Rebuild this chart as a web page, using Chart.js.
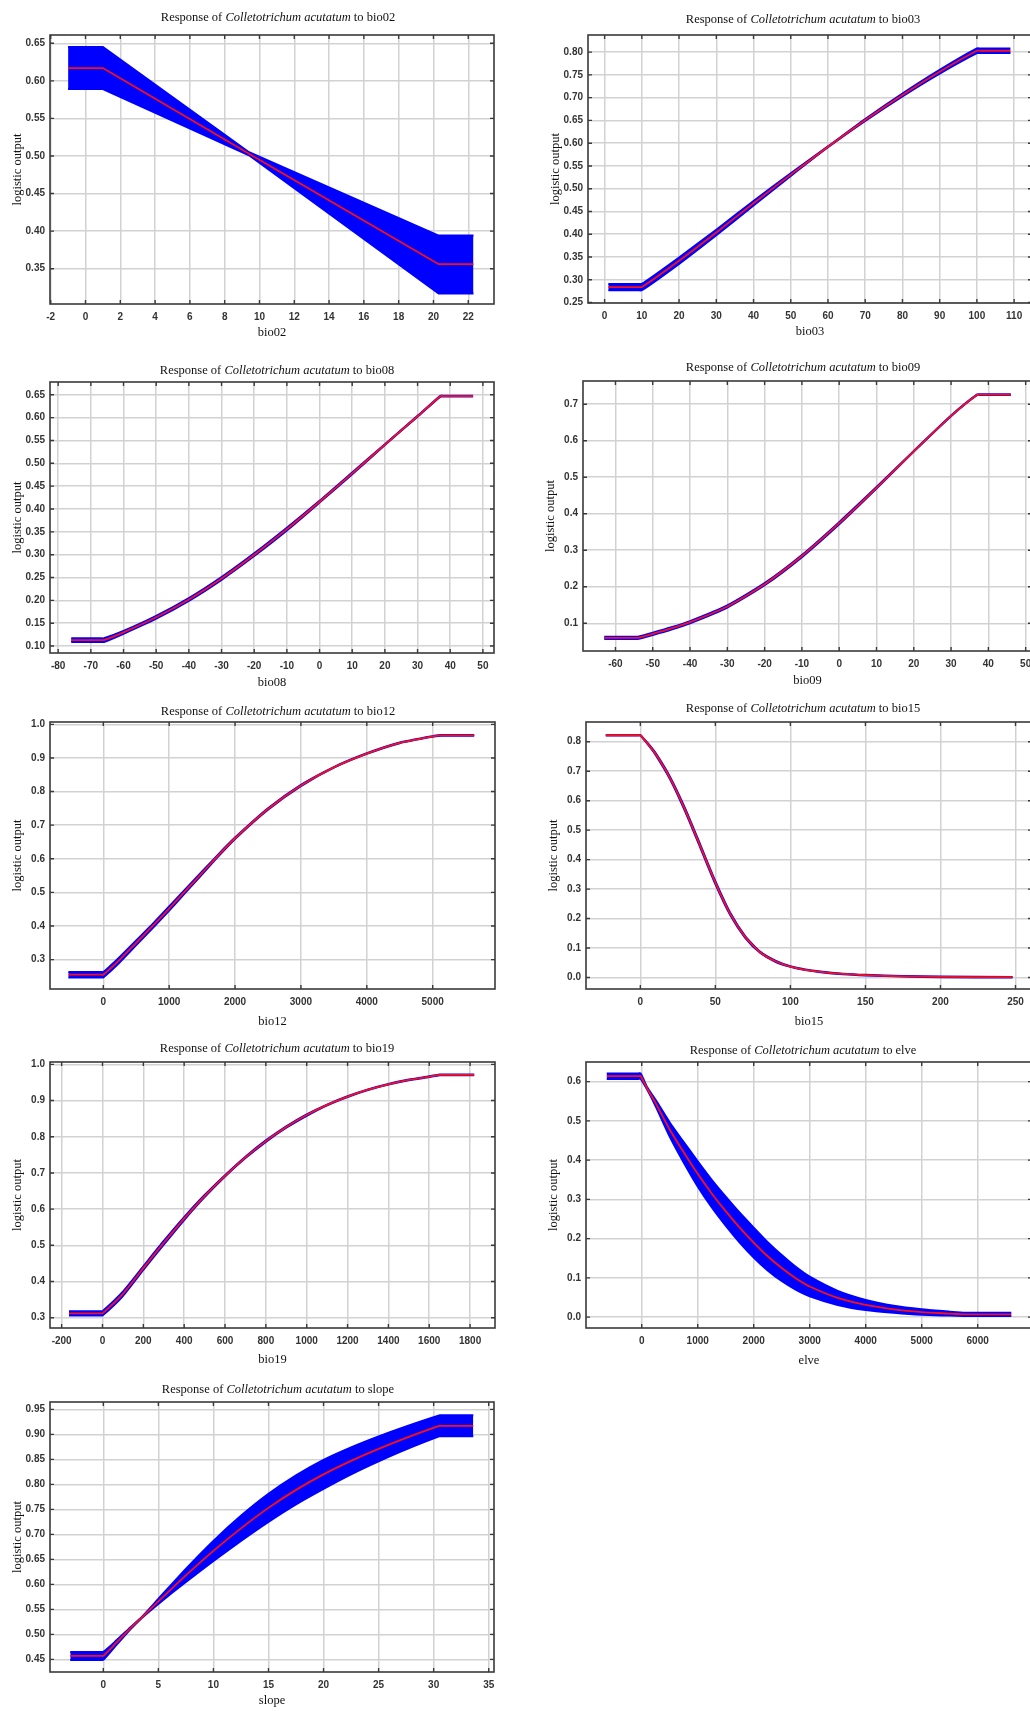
<!DOCTYPE html>
<html>
<head>
<meta charset="utf-8">
<script src="https://cdn.jsdelivr.net/npm/chart.js@4.4.1/dist/chart.umd.min.js"></script>
<style>
  body { margin: 0; background: #fff; }
  #page { position: relative; width: 1030px; height: 1711px; overflow: hidden; background: #fff; }
  #page canvas { position: absolute; }
  .ttl { position: absolute; width: 420px; text-align: center; font: 12.5px "Liberation Serif", "Times New Roman", serif; line-height: 16px; color: #111; white-space: nowrap; }
</style>
</head>
<body>
<div id="page"></div>
<script>
// ---- data (x, mean, upper, lower) ----
var bio02X   = [-1, 1, 9.4, 20.3, 22.3];
var bio02Mid = [0.617, 0.617, 0.503, 0.356, 0.356];
var bio02Up  = [0.645, 0.645, 0.505, 0.394, 0.394];
var bio02Low = [0.589, 0.589, 0.501, 0.317, 0.317];
var bio02XTicks = ['-2', '0', '2', '4', '6', '8', '10', '12', '14', '16', '18', '20', '22'];
var bio02YTicks = ['0.35', '0.40', '0.45', '0.50', '0.55', '0.60', '0.65'];

var bio03X   = [1, 9, 10, 20, 30, 40, 50, 60, 70, 80, 90, 100, 101, 109];
var bio03Mid = [0.284, 0.284, 0.284, 0.342, 0.404, 0.468, 0.531, 0.592, 0.651, 0.706, 0.757, 0.803, 0.803, 0.803];
var bio03Up  = [0.291, 0.291, 0.291, 0.349, 0.410, 0.473, 0.534, 0.593, 0.653, 0.709, 0.761, 0.808, 0.808, 0.808];
var bio03Low = [0.277, 0.277, 0.277, 0.335, 0.398, 0.463, 0.528, 0.591, 0.649, 0.703, 0.753, 0.798, 0.798, 0.798];
var bio03XTicks = ['0', '10', '20', '30', '40', '50', '60', '70', '80', '90', '100', '110'];
var bio03YTicks = ['0.25', '0.30', '0.35', '0.40', '0.45', '0.50', '0.55', '0.60', '0.65', '0.70', '0.75', '0.80'];

var bio08X   = [-76, -67, -66, -60, -50, -40, -30, -20, -10, 0, 10, 20, 30, 37, 38, 47];
var bio08Mid = [0.113, 0.113, 0.113, 0.130, 0.163, 0.202, 0.248, 0.300, 0.356, 0.416, 0.478, 0.541, 0.603, 0.647, 0.647, 0.647];
var bio08Up  = [0.117, 0.117, 0.117, 0.133, 0.166, 0.205, 0.251, 0.303, 0.359, 0.418, 0.480, 0.542, 0.604, 0.648, 0.648, 0.648];
var bio08Low = [0.109, 0.109, 0.109, 0.127, 0.160, 0.199, 0.245, 0.297, 0.353, 0.414, 0.476, 0.540, 0.602, 0.646, 0.646, 0.646];
var bio08XTicks = ['-80', '-70', '-60', '-50', '-40', '-30', '-20', '-10', '0', '10', '20', '30', '40', '50'];
var bio08YTicks = ['0.10', '0.15', '0.20', '0.25', '0.30', '0.35', '0.40', '0.45', '0.50', '0.55', '0.60', '0.65'];

var bio09X   = [-63, -55, -54, -50, -45, -40, -30, -20, -10, 0, 10, 20, 30, 37, 38, 46];
var bio09Mid = [0.060, 0.060, 0.060, 0.071, 0.086, 0.103, 0.146, 0.207, 0.284, 0.374, 0.471, 0.571, 0.668, 0.726, 0.726, 0.726];
var bio09Up  = [0.063, 0.063, 0.063, 0.074, 0.089, 0.106, 0.149, 0.210, 0.287, 0.377, 0.473, 0.572, 0.669, 0.727, 0.727, 0.727];
var bio09Low = [0.057, 0.057, 0.057, 0.068, 0.083, 0.100, 0.143, 0.204, 0.281, 0.371, 0.469, 0.570, 0.667, 0.725, 0.725, 0.725];
var bio09XTicks = ['-60', '-50', '-40', '-30', '-20', '-10', '0', '10', '20', '30', '40', '50'];
var bio09YTicks = ['0.1', '0.2', '0.3', '0.4', '0.5', '0.6', '0.7'];

var bio12X   = [-530, -30, 0, 100, 250, 500, 750, 1000, 1250, 1500, 1750, 2000, 2500, 3000, 3500, 4000, 4500, 5000, 5130, 5160, 5630];
var bio12Mid = [0.255, 0.255, 0.255, 0.272, 0.300, 0.350, 0.400, 0.452, 0.505, 0.558, 0.611, 0.661, 0.748, 0.818, 0.872, 0.913, 0.945, 0.964, 0.967, 0.967, 0.967];
var bio12Up  = [0.263, 0.263, 0.263, 0.280, 0.308, 0.357, 0.406, 0.458, 0.510, 0.562, 0.614, 0.663, 0.750, 0.820, 0.873, 0.914, 0.946, 0.965, 0.968, 0.968, 0.968];
var bio12Low = [0.247, 0.247, 0.247, 0.264, 0.292, 0.343, 0.394, 0.446, 0.500, 0.554, 0.608, 0.659, 0.746, 0.816, 0.871, 0.912, 0.944, 0.963, 0.966, 0.966, 0.966];
var bio12XTicks = ['0', '1000', '2000', '3000', '4000', '5000'];
var bio12YTicks = ['0.3', '0.4', '0.5', '0.6', '0.7', '0.8', '0.9', '1.0'];

var bio15X   = [-23, -1, 0, 5, 10, 20, 30, 40, 50, 60, 70, 80, 90, 100, 110, 120, 135, 150, 175, 200, 248];
var bio15Mid = [0.822, 0.822, 0.822, 0.793, 0.760, 0.675, 0.567, 0.445, 0.322, 0.215, 0.137, 0.085, 0.055, 0.037, 0.026, 0.019, 0.012, 0.008, 0.004, 0.002, 0.001];
var bio15Up  = [0.823, 0.823, 0.823, 0.795, 0.763, 0.679, 0.572, 0.450, 0.327, 0.219, 0.140, 0.087, 0.057, 0.038, 0.027, 0.020, 0.013, 0.009, 0.005, 0.003, 0.002];
var bio15Low = [0.821, 0.821, 0.821, 0.791, 0.757, 0.671, 0.562, 0.440, 0.317, 0.211, 0.134, 0.083, 0.053, 0.036, 0.025, 0.018, 0.011, 0.007, 0.003, 0.001, 0.000];
var bio15XTicks = ['0', '50', '100', '150', '200', '250'];
var bio15YTicks = ['0.0', '0.1', '0.2', '0.3', '0.4', '0.5', '0.6', '0.7', '0.8'];

var bio19X   = [-164, -10, 0, 100, 200, 300, 400, 500, 600, 700, 800, 900, 1000, 1100, 1200, 1300, 1400, 1500, 1600, 1650, 1660, 1820];
var bio19Mid = [0.312, 0.312, 0.312, 0.366, 0.437, 0.507, 0.574, 0.636, 0.692, 0.743, 0.788, 0.827, 0.860, 0.888, 0.911, 0.930, 0.945, 0.957, 0.966, 0.971, 0.971, 0.971];
var bio19Up  = [0.318, 0.318, 0.318, 0.372, 0.442, 0.512, 0.578, 0.639, 0.694, 0.745, 0.790, 0.829, 0.862, 0.889, 0.912, 0.931, 0.946, 0.958, 0.967, 0.972, 0.972, 0.972];
var bio19Low = [0.306, 0.306, 0.306, 0.360, 0.432, 0.502, 0.570, 0.633, 0.690, 0.741, 0.786, 0.825, 0.858, 0.887, 0.910, 0.929, 0.944, 0.956, 0.965, 0.970, 0.970, 0.970];
var bio19XTicks = ['-200', '0', '200', '400', '600', '800', '1000', '1200', '1400', '1600', '1800'];
var bio19YTicks = ['0.3', '0.4', '0.5', '0.6', '0.7', '0.8', '0.9', '1.0'];

var elveX   = [-625, -60, -20, 100, 250, 500, 750, 1000, 1250, 1500, 1750, 2000, 2250, 2500, 2750, 3000, 3500, 4000, 4500, 5000, 5500, 5750, 5800, 6600];
var elveMid = [0.614, 0.614, 0.614, 0.582, 0.545, 0.478, 0.420, 0.365, 0.315, 0.270, 0.228, 0.190, 0.155, 0.125, 0.099, 0.078, 0.049, 0.031, 0.020, 0.013, 0.009, 0.007, 0.007, 0.007];
var elveUp  = [0.621, 0.621, 0.621, 0.585, 0.553, 0.496, 0.446, 0.397, 0.350, 0.307, 0.266, 0.228, 0.191, 0.158, 0.128, 0.103, 0.067, 0.044, 0.029, 0.020, 0.014, 0.011, 0.011, 0.011];
var elveLow = [0.607, 0.607, 0.607, 0.579, 0.537, 0.460, 0.394, 0.333, 0.280, 0.233, 0.190, 0.152, 0.119, 0.092, 0.070, 0.053, 0.031, 0.018, 0.011, 0.006, 0.004, 0.003, 0.003, 0.003];
var elveXTicks = ['0', '1000', '2000', '3000', '4000', '5000', '6000'];
var elveYTicks = ['0.0', '0.1', '0.2', '0.3', '0.4', '0.5', '0.6'];

var slopeX   = [-3, -0.2, 0, 1, 2.5, 3.5, 5, 7.5, 10, 12.5, 15, 17.5, 20, 22.5, 25, 27.5, 30.5, 30.7, 33.6];
var slopeMid = [0.457, 0.457, 0.457, 0.479, 0.513, 0.534, 0.566, 0.618, 0.667, 0.712, 0.753, 0.789, 0.820, 0.847, 0.871, 0.893, 0.917, 0.917, 0.917];
var slopeUp  = [0.465, 0.465, 0.465, 0.484, 0.515, 0.535, 0.571, 0.631, 0.687, 0.737, 0.781, 0.818, 0.849, 0.874, 0.896, 0.916, 0.938, 0.938, 0.938];
var slopeLow = [0.449, 0.449, 0.449, 0.474, 0.511, 0.533, 0.561, 0.605, 0.647, 0.687, 0.725, 0.760, 0.791, 0.820, 0.846, 0.870, 0.896, 0.896, 0.896];
var slopeXTicks = ['0', '5', '10', '15', '20', '25', '30', '35'];
var slopeYTicks = ['0.45', '0.50', '0.55', '0.60', '0.65', '0.70', '0.75', '0.80', '0.85', '0.90', '0.95'];

// ---- panel placement (plot box left, top, right, bottom in page px) ----
var panels = [
  { name: 'bio02', x: bio02X, mid: bio02Mid, up: bio02Up, low: bio02Low, xt: bio02XTicks, yt: bio02YTicks,
    xr: [-2.04, 23.48], yr: [0.303, 0.661], box: [50, 32, 494, 304], title: [278, 17], xh: 36, bend: 0 },
  { name: 'bio03', x: bio03X, mid: bio03Mid, up: bio03Up, low: bio03Low, xt: bio03XTicks, yt: bio03YTicks,
    xr: [-4.46, 114.8], yr: [0.249, 0.8376], box: [588, 32, 1032, 303], title: [803, 19], xh: 36, bend: 0.2 },
  { name: 'bio08', x: bio08X, mid: bio08Mid, up: bio08Up, low: bio08Low, xt: bio08XTicks, yt: bio08YTicks,
    xr: [-82.5, 53.4], yr: [0.0848, 0.678], box: [50, 379, 494, 653], title: [277, 370], xh: 37, bend: 0.2 },
  { name: 'bio09', x: bio09X, mid: bio09Mid, up: bio09Up, low: bio09Low, xt: bio09XTicks, yt: bio09YTicks,
    xr: [-68.7, 51.7], yr: [0.024, 0.7635], box: [583, 378, 1032, 651], title: [803, 367], xh: 37, bend: 0.2 },
  { name: 'bio12', x: bio12X, mid: bio12Mid, up: bio12Up, low: bio12Low, xt: bio12XTicks, yt: bio12YTicks,
    xr: [-809, 5946], yr: [0.2125, 1.007], box: [50, 719, 495, 989], title: [278, 711], xh: 40, bend: 0.2 },
  { name: 'bio15', x: bio15X, mid: bio15Mid, up: bio15Up, low: bio15Low, xt: bio15XTicks, yt: bio15YTicks,
    xr: [-36.2, 261], yr: [-0.039, 0.867], box: [586, 719, 1032, 989], title: [803, 708], xh: 40, bend: 0.2 },
  { name: 'bio19', x: bio19X, mid: bio19Mid, up: bio19Up, low: bio19Low, xt: bio19XTicks, yt: bio19YTicks,
    xr: [-257, 1922], yr: [0.2715, 1.0066], box: [50, 1059, 495, 1328], title: [277, 1048], xh: 39, bend: 0.2 },
  { name: 'elve', x: elveX, mid: elveMid, up: elveUp, low: elveLow, xt: elveXTicks, yt: elveYTicks,
    xr: [-995, 6970], yr: [-0.0277, 0.650], box: [586, 1059, 1032, 1328], title: [803, 1050], xh: 40, bend: 0.2 },
  { name: 'slope', x: slopeX, mid: slopeMid, up: slopeUp, low: slopeLow, xt: slopeXTicks, yt: slopeYTicks,
    xr: [-4.84, 35.48], yr: [0.4248, 0.9647], box: [50, 1399, 494, 1672], title: [278, 1389], xh: 36, bend: 0.2 }
];

// frame round the plot with small inward ticks on all four sides
var frameBox = {
  id: 'frameBox',
  afterDraw: function (chart) {
    var c = chart.ctx, a = chart.chartArea;
    var sx = chart.scales.x, sy = chart.scales.y;
    c.save();
    c.strokeStyle = '#3a3a3a';
    c.lineWidth = 1.6;
    c.strokeRect(a.left, a.top, a.right - a.left, a.bottom - a.top);
    c.lineWidth = 1.4;
    c.beginPath();
    sx.ticks.forEach(function (t) {
      var px = sx.getPixelForValue(t.value);
      c.moveTo(px, a.bottom); c.lineTo(px, a.bottom - 4);
      c.moveTo(px, a.top); c.lineTo(px, a.top + 4);
    });
    sy.ticks.forEach(function (t) {
      var py = sy.getPixelForValue(t.value);
      c.moveTo(a.left, py); c.lineTo(a.left + 4, py);
      c.moveTo(a.right, py); c.lineTo(a.right - 4, py);
    });
    c.stroke();
    c.restore();
  }
};

function pts(xs, ys) {
  return xs.map(function (v, i) { return { x: v, y: ys[i] }; });
}

var page = document.getElementById('page');
var padTop = 8, yW = 50, padRight = 12;

panels.forEach(function (p) {
  var b = p.box;
  var cv = document.createElement('canvas');
  var w = yW + (b[2] - b[0]) + padRight;
  var h = padTop + (b[3] - b[1]) + p.xh;
  cv.width = w; cv.height = h;
  cv.style.left = (b[0] - yW) + 'px';
  cv.style.top = (b[1] - padTop) + 'px';
  cv.style.width = w + 'px'; cv.style.height = h + 'px';
  page.appendChild(cv);

  var t = document.createElement('div');
  t.className = 'ttl';
  t.style.left = (p.title[0] - 210) + 'px';
  t.style.top = (p.title[1] - 8) + 'px';
  t.innerHTML = 'Response of <i>Colletotrichum acutatum</i> to ' + p.name;
  page.appendChild(t);

  var tickFont = { family: '"Liberation Sans", Arial, sans-serif', size: 10, weight: 'bold' };
  var axisFont = { family: '"Liberation Serif", "Times New Roman", serif', size: 12.5 };

  new Chart(cv.getContext('2d'), {
    type: 'line',
    data: {
      datasets: [
        { data: pts(p.x, p.up), borderColor: '#0000ff', backgroundColor: '#0000ff', borderWidth: 2,
          fill: '+1', pointRadius: 0, tension: p.bend, order: 1 },
        { data: pts(p.x, p.low), borderColor: '#0000ff', backgroundColor: '#0000ff', borderWidth: 2,
          fill: false, pointRadius: 0, tension: p.bend, order: 2 },
        { data: pts(p.x, p.mid), borderColor: '#ff1010', borderWidth: 1.8,
          fill: false, pointRadius: 0, tension: p.bend, order: 0 }
      ]
    },
    options: {
      responsive: false,
      animation: false,
      events: [],
      layout: { padding: { top: padTop, right: padRight, left: 0, bottom: 0 } },
      plugins: { legend: { display: false }, tooltip: { enabled: false } },
      scales: {
        x: {
          type: 'linear', min: p.xr[0], max: p.xr[1],
          afterBuildTicks: function (s) { s.ticks = p.xt.map(function (v) { return { value: parseFloat(v) }; }); },
          afterFit: function (s) { s.height = p.xh; },
          ticks: { autoSkip: false, maxRotation: 0, padding: 7, color: '#333', font: tickFont,
                   callback: function (v, i) { return p.xt[i]; } },
          grid: { color: '#d2d2d2', lineWidth: 1.5, drawTicks: false },
          border: { display: false },
          title: { display: true, text: p.name, font: axisFont, color: '#111', padding: 0 }
        },
        y: {
          type: 'linear', min: p.yr[0], max: p.yr[1],
          afterBuildTicks: function (s) { s.ticks = p.yt.map(function (v) { return { value: parseFloat(v) }; }); },
          afterFit: function (s) { s.width = yW; },
          ticks: { autoSkip: false, padding: 5, color: '#333', font: tickFont,
                   callback: function (v, i) { return p.yt[i]; } },
          grid: { color: '#d2d2d2', lineWidth: 1.5, drawTicks: false },
          border: { display: false },
          title: { display: true, text: 'logistic output', font: axisFont, color: '#111', padding: { top: 10, bottom: 0 } }
        }
      }
    },
    plugins: [frameBox]
  });
});
</script>
</body>
</html>
